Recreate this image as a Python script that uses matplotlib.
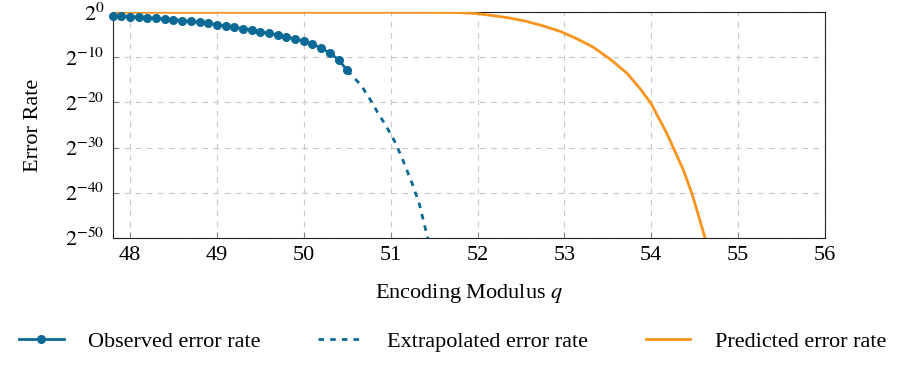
import numpy as np
import matplotlib
matplotlib.use("Agg")
import matplotlib.pyplot as plt

plt.rcParams["font.family"] = ["Liberation Serif", "DejaVu Serif"]
plt.rcParams["mathtext.fontset"] = "stix"
plt.rc('font', size=16)

# observed error rate (log2), q = 47.8 .. 50.5
obs_q = [47.8, 47.9, 48.0, 48.1, 48.2, 48.3, 48.4, 48.5, 48.6, 48.7,
         48.8, 48.9, 49.0, 49.1, 49.2, 49.3, 49.4, 49.5, 49.6, 49.7,
         49.8, 49.9, 50.0, 50.1, 50.2, 50.3, 50.4, 50.5]
obs_log2 = [-0.82, -0.82, -0.96, -1.04, -1.18, -1.33, -1.56, -1.62, -1.84, -2.0,
            -2.22, -2.44, -2.73, -3.04, -3.33, -3.62, -3.93, -4.38, -4.67, -5.04,
            -5.49, -5.93, -6.38, -7.04, -7.93, -9.04, -10.5, -12.9]

# extrapolated error rate (log2)
ext_q = [50.5, 50.66, 50.76, 50.85, 50.95, 51.04, 51.12, 51.18, 51.25, 51.33, 51.41, 51.45]
ext_log2 = [-12.9, -16.2, -19.2, -22.2, -25.3, -28.4, -31.8, -34.7, -38.1, -42.5, -48.8, -52.0]

# predicted error rate (log2)
pred_q = [47.8, 49.0, 50.0, 51.0, 51.4, 51.6, 51.8, 51.99, 52.18, 52.37, 52.56,
          52.76, 52.95, 53.14, 53.33, 53.52, 53.72, 53.87, 54.0, 54.18, 54.37,
          54.47, 54.55, 54.62, 54.66]
pred_log2 = [0.0, 0.0, 0.0, 0.0, -0.01, -0.03, -0.08, -0.29, -0.73, -1.27, -2.0,
             -3.04, -4.22, -5.84, -7.71, -10.3, -13.5, -16.9, -20.3, -26.9, -35.0,
             -40.3, -45.5, -50.1, -52.5]

x_ticks = [48, 49, 50, 51, 52, 53, 54, 55, 56]
y_exps = [0, -10, -20, -30, -40, -50]

blue = '#0b6a95'
orange = '#f7941e'

fig = plt.figure(figsize=(9.11, 3.68), dpi=100)
ax = fig.add_axes([0.1237, 0.354, 0.7819, 0.6126])

ax.plot(obs_q, 2.0 ** np.array(obs_log2), '-o', color=blue, lw=2, ms=5.5,
        label='Observed error rate', zorder=4, clip_on=False)
ax.plot(ext_q, 2.0 ** np.array(ext_log2), color=blue, lw=2, ls=(0, (2, 2.2)),
        label='Extrapolated error rate', zorder=3)
ax.plot(pred_q, 2.0 ** np.array(pred_log2), color=orange, lw=2,
        label='Predicted error rate', zorder=3)

ax.set_yscale('log', base=2)
ax.set_xlim(47.8, 56)
ax.set_ylim(2.0 ** -50, 2.0 ** 0)
ax.set_xticks(x_ticks)
ax.set_xticklabels([str(t) for t in x_ticks])
ax.set_yticks([2.0 ** e for e in y_exps])
ax.set_yticklabels([r'$2^{%d}$' % e for e in y_exps])
ax.yaxis.set_minor_locator(matplotlib.ticker.NullLocator())

ax.grid(True, ls=(0, (5, 5)), color='#c8c8c8', lw=0.8)
ax.tick_params(direction='in', length=4, color='#888888', labelsize=16, pad=6)
for s in ax.spines.values():
    s.set_color('#222222')
    s.set_linewidth(0.8)

ax.set_xlabel(r'Encoding Modulus $q$', fontsize=16, labelpad=12)
ax.set_ylabel('Error Rate', fontsize=16, labelpad=16)

fig.legend(loc='lower center', bbox_to_anchor=(0.497, -0.01), ncol=3, frameon=False,
           handlelength=2.0, columnspacing=2.6, handletextpad=1.1, fontsize=16)

plt.savefig('out.png', dpi=100)
